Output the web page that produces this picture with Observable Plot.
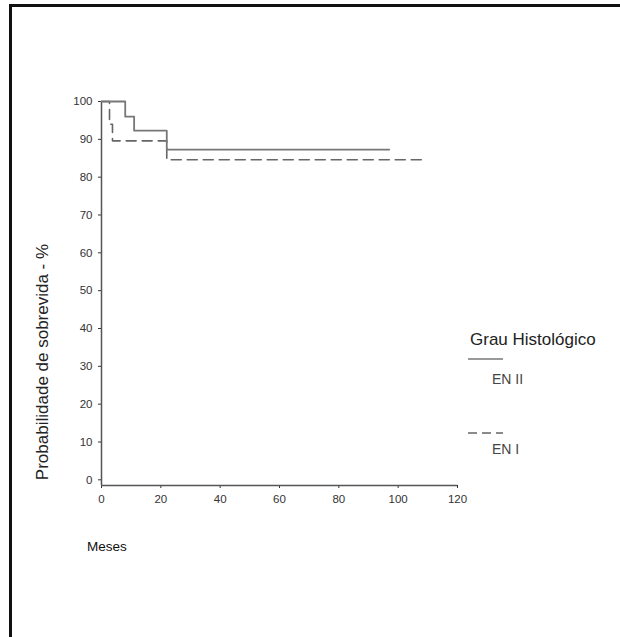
<!DOCTYPE html>
<html>
<head>
<meta charset="utf-8">
<script src="https://cdn.jsdelivr.net/npm/d3@7"></script>
<script src="https://cdn.jsdelivr.net/npm/@observablehq/plot@0.6"></script>
<style>
  html, body { margin: 0; padding: 0; background: #fff; }
  body { width: 620px; height: 637px; position: relative; overflow: hidden; font-family: "Liberation Sans", Arial, sans-serif; }
  #frame { position: absolute; left: 9px; top: 4px; width: 640px; height: 660px; border-left: 3px solid #111; border-top: 3px solid #111; box-sizing: border-box; }
  #chart { position: absolute; left: 0; top: 0; }
  .txt { position: absolute; white-space: nowrap; color: #222; }
</style>
</head>
<body>
<div id="frame"></div>
<div id="chart"></div>
<div class="txt" style="left:43px; top:362px; font-size:17px; transform: translate(-50%,-50%) rotate(-90deg);">Probabilidade de sobrevida - %</div>
<div class="txt" style="left:87px; top:539px; font-size:13.5px; color:#111;">Meses</div>
<div class="txt" style="left:470px; top:330px; font-size:17px;">Grau Histológico</div>
<svg class="txt" style="left:466px; top:355px;" width="42" height="8"><line x1="2" y1="4" x2="37" y2="4" stroke="#777" stroke-width="1.6"/></svg>
<div class="txt" style="left:492px; top:371px; font-size:14px; color:#444;">EN II</div>
<svg class="txt" style="left:466px; top:429px;" width="42" height="8"><line x1="2" y1="4" x2="37" y2="4" stroke="#666" stroke-width="1.6" stroke-dasharray="9,5"/></svg>
<div class="txt" style="left:492px; top:441px; font-size:14px; color:#444;">EN I</div>
<script>
const mesesII = [0, 8, 11, 22, 97];
const survII  = [100, 96, 92.3, 87.3, 87.3];
const mesesI  = [0, 2.7, 3.7, 22, 108];
const survI   = [100, 94, 89.6, 84.6, 84.6];
const xTicks = [0, 20, 40, 60, 80, 100, 120];
const yTicks = [0, 10, 20, 30, 40, 50, 60, 70, 80, 90, 100];

const dataII = mesesII.map((m, i) => ({m, s: survII[i]}));
const dataI  = mesesI.map((m, i) => ({m, s: survI[i]}));

const plot = Plot.plot({
  width: 620,
  height: 637,
  marginLeft: 101,
  marginRight: 163,
  marginTop: 101,
  marginBottom: 152,
  style: {background: "transparent", fontFamily: "Liberation Sans, Arial, sans-serif", fontSize: "11.5px", color: "#333"},
  x: {domain: [0, 120], ticks: xTicks, tickSize: 3, tickPadding: 6, label: null},
  y: {domain: [-1.5, 100], ticks: yTicks, tickSize: 3, tickPadding: 6, label: null},
  marks: [
    Plot.ruleX([0], {y1: -1.5, y2: 100, stroke: "#555", strokeWidth: 1.5}),
    Plot.ruleY([-1.5], {x1: 0, x2: 120, stroke: "#555", strokeWidth: 1.5}),
    Plot.line(dataI, {x: "m", y: "s", curve: "step-after", stroke: "#666", strokeWidth: 1.6, strokeDasharray: "10,6"}),
    Plot.line(dataII, {x: "m", y: "s", curve: "step-after", stroke: "#777", strokeWidth: 1.8})
  ]
});
document.getElementById("chart").appendChild(plot);
</script>
</body>
</html>
